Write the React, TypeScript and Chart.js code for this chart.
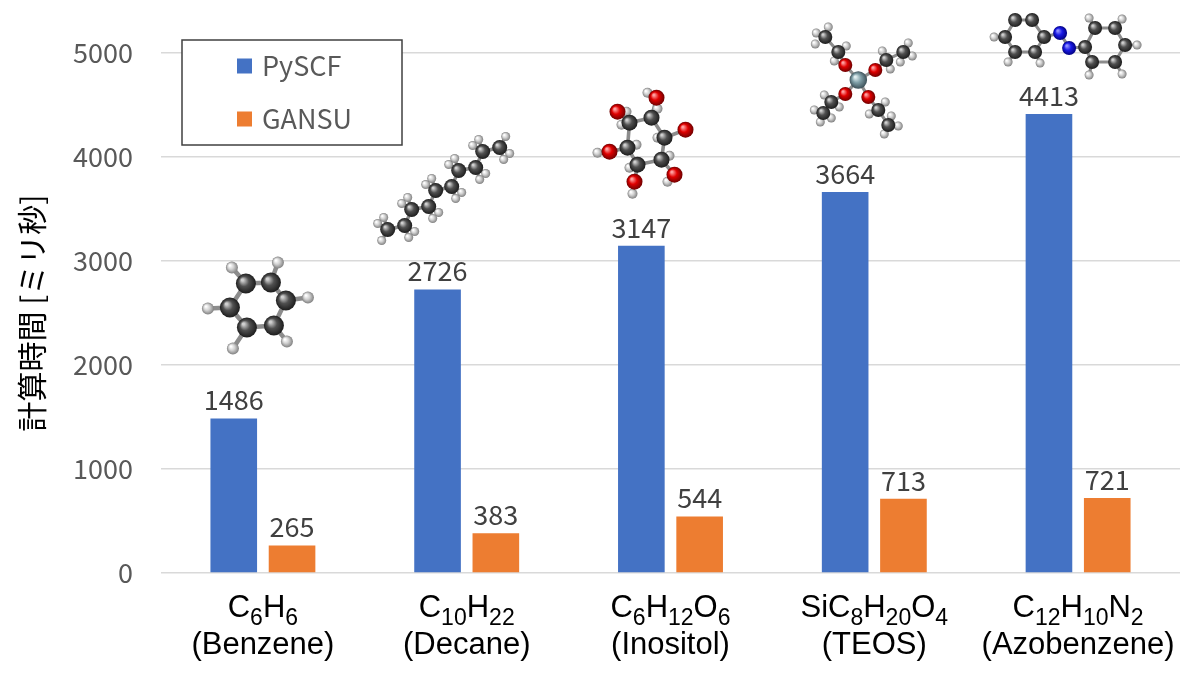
import { useEffect, useRef } from "react"
import { Chart, registerables } from "chart.js"

Chart.register(...registerables)

// Chart data
const formulas = ["C{6}H{6}", "C{10}H{22}", "C{6}H{12}O{6}", "SiC{8}H{20}O{4}", "C{12}H{10}N{2}"]
const names = ["(Benzene)", "(Decane)", "(Inositol)", "(TEOS)", "(Azobenzene)"]
const pyscf = [1486, 2726, 3147, 3664, 4413]
const gansu = [265, 383, 544, 713, 721]
const yMax = 5000
const yStep = 1000

const BLUE = "#4472C4"
const ORANGE = "#ED7D31"
const JP = '"Noto Sans CJK JP", "Noto Sans", sans-serif'
const LATIN = '"Liberation Sans", Arial, sans-serif'

// Ball-and-stick sketches that sit above each group (decoration only)
type Atom = [number, number, string]
type Molecule = {
  at: [number, number]
  r: number
  rh: number
  maxBond: number
  hBond: number
  atoms: Atom[]
}

const molecules: Molecule[] = [
  {
    // benzene
    at: [-4, -114],
    r: 10,
    rh: 6,
    maxBond: 30,
    hBond: 26,
    atoms: [
      [-13, -21, "C"], [12, -22, "C"], [27, -4, "C"], [15, 21, "C"], [-12, 23, "C"], [-29, 3, "C"],
      [-27, -37, "H"], [19, -42, "H"], [49, -7, "H"], [28, 37, "H"], [-26, 44, "H"], [-51, 4, "H"],
    ],
  },
  {
    // decane
    at: [-23, -101],
    r: 7.5,
    rh: 4.5,
    maxBond: 20,
    hBond: 14,
    atoms: [
      [-56, 41, "C"], [-39, 37, "C"], [-32, 21, "C"], [-15, 18, "C"], [-8, 2, "C"],
      [8, -2, "C"], [15, -18, "C"], [32, -21, "C"], [39, -37, "C"], [56, -41, "C"],
      [-66, 35, "H"], [-60, 29, "H"], [-62, 52, "H"], [-29, 43, "H"], [-35, 49, "H"],
      [-42, 15, "H"], [-36, 9, "H"], [-5, 24, "H"], [-11, 30, "H"], [-18, -4, "H"],
      [-12, -10, "H"], [18, 4, "H"], [12, 10, "H"], [5, -24, "H"], [11, -30, "H"],
      [42, -15, "H"], [36, -9, "H"], [29, -43, "H"], [35, -49, "H"], [66, -35, "H"],
      [60, -29, "H"], [62, -52, "H"],
    ],
  },
  {
    // inositol
    at: [-25, -104],
    r: 8,
    rh: 5,
    maxBond: 26,
    hBond: 13,
    atoms: [
      [-24, -17, "H"], [12, -4, "H"], [-16, 26, "H"], [-9, 3, "H"], [12, -33, "H"], [24, 14, "H"],
      [-19, -30, "H"], [2, -49, "H"], [22, 40, "H"], [-13, 52, "H"], [-48, 11, "H"],
      [-16, -19, "C"], [6, -24, "C"], [19, -4, "C"], [16, 18, "C"], [-8, 23, "C"], [-18, 6, "C"],
      [-28, -30, "O"], [11, -44, "O"], [40, -12, "O"], [29, 33, "O"], [-11, 40, "O"], [-36, 10, "O"],
    ],
  },
  {
    // TEOS
    at: [-16, -112],
    r: 7,
    rh: 4.5,
    maxBond: 22,
    hBond: 12,
    atoms: [
      [-42, -47, "H"], [-30, -53, "H"], [-43, -36, "H"], [-12, -34, "H"], [-24, -19, "H"],
      [24, -29, "H"], [32, -11, "H"], [50, -37, "H"], [54, -24, "H"], [42, -18, "H"],
      [-34, 15, "H"], [-19, 27, "H"], [-44, 30, "H"], [-38, 42, "H"], [-27, 38, "H"],
      [27, 22, "H"], [11, 34, "H"], [40, 46, "H"], [26, 54, "H"], [33, 36, "H"],
      [-20, -28, "C"], [-33, -43, "C"], [28, -20, "C"], [45, -28, "C"],
      [-27, 22, "C"], [-35, 33, "C"], [20, 30, "C"], [30, 45, "C"],
      [-13, -15, "O"], [17, -10, "O"], [-13, 14, "O"], [10, 17, "O"],
      [0, 0, "Si"],
    ],
  },
  {
    // azobenzene
    at: [-14, -74],
    r: 7,
    rh: 4.5,
    maxBond: 24,
    hBond: 16,
    atoms: [
      [-70, -3, "H"], [-24, 23, "H"], [-56, 22, "H"],
      [25, -22, "H"], [58, -21, "H"], [73, 5, "H"], [58, 34, "H"], [25, 35, "H"],
      [-49, -20, "C"], [-32, -20, "C"], [-20, -3, "C"], [-29, 12, "C"], [-49, 12, "C"], [-59, -3, "C"],
      [31, -12, "C"], [51, -12, "C"], [61, 5, "C"], [51, 22, "C"], [28, 22, "C"], [21, 7, "C"],
      [-4, -7, "N"], [5, 8, "N"],
    ],
  },
]

const atomColors: Record<string, [string, string, string]> = {
  C: ["#d0d0d0", "#505050", "#1c1c1c"],
  H: ["#ffffff", "#d2d2d2", "#808080"],
  O: ["#ffa0a0", "#e00000", "#700000"],
  N: ["#9090ff", "#1a1ae6", "#000080"],
  Si: ["#e0eef0", "#80a0a8", "#3c5058"],
}

function drawMolecule(ctx: CanvasRenderingContext2D, cx: number, cy: number, m: Molecule) {
  const pts = m.atoms.map(([dx, dy, el]) => ({ x: cx + dx, y: cy + dy, el }))
  ctx.save()
  ctx.strokeStyle = "#8c8c8c"
  ctx.lineCap = "round"
  ctx.lineWidth = m.r * 0.45
  for (let i = 0; i < pts.length; i++) {
    for (let j = i + 1; j < pts.length; j++) {
      const a = pts[i]
      const b = pts[j]
      const hasH = a.el === "H" || b.el === "H"
      if (a.el === "H" && b.el === "H") continue
      const d = Math.hypot(a.x - b.x, a.y - b.y)
      if (d < (hasH ? m.hBond : m.maxBond)) {
        ctx.beginPath()
        ctx.moveTo(a.x, a.y)
        ctx.lineTo(b.x, b.y)
        ctx.stroke()
      }
    }
  }
  const ordered = [...pts.filter((p) => p.el === "H"), ...pts.filter((p) => p.el !== "H")]
  for (const p of ordered) {
    const r = p.el === "H" ? m.rh : p.el === "Si" ? m.r * 1.25 : m.r
    const [light, base, dark] = atomColors[p.el]
    const g = ctx.createRadialGradient(p.x - r * 0.35, p.y - r * 0.35, r * 0.1, p.x, p.y, r)
    g.addColorStop(0, light)
    g.addColorStop(0.45, base)
    g.addColorStop(1, dark)
    ctx.fillStyle = g
    ctx.beginPath()
    ctx.arc(p.x, p.y, r, 0, Math.PI * 2)
    ctx.fill()
  }
  ctx.restore()
}

// draws "C{6}H{6}" with subscripts, centred on x
function drawFormula(ctx: CanvasRenderingContext2D, text: string, x: number, y: number) {
  const parts: [string, boolean][] = []
  const re = /\{([^}]*)\}|([^{]+)/g
  let m: RegExpExecArray | null
  while ((m = re.exec(text))) {
    if (m[1] !== undefined) parts.push([m[1], true])
    else parts.push([m[2], false])
  }
  const mainFont = `31px ${LATIN}`
  const subFont = `23px ${LATIN}`
  let total = 0
  for (const [t, sub] of parts) {
    ctx.font = sub ? subFont : mainFont
    total += ctx.measureText(t).width
  }
  let cur = x - total / 2
  ctx.textAlign = "left"
  for (const [t, sub] of parts) {
    ctx.font = sub ? subFont : mainFont
    ctx.fillText(t, cur, sub ? y + 8 : y)
    cur += ctx.measureText(t).width
  }
}

const decorations = {
  id: "decorations",
  afterDatasetsDraw(chart: Chart) {
    const ctx = chart.ctx
    ctx.save()
    ctx.font = `27px ${JP}`
    ctx.fillStyle = "#404040"
    ctx.textAlign = "center"
    ctx.textBaseline = "alphabetic"
    chart.data.datasets.forEach((ds, di) => {
      const meta = chart.getDatasetMeta(di)
      meta.data.forEach((bar, i) => {
        ctx.fillText(String(ds.data[i]), bar.x, bar.y - 8)
      })
    })
    ctx.restore()
  },
  afterDraw(chart: Chart) {
    const ctx = chart.ctx
    const area = chart.chartArea
    const xs = chart.scales.x
    const ys = chart.scales.y

    // category labels
    ctx.save()
    ctx.fillStyle = "#000000"
    ctx.textBaseline = "alphabetic"
    formulas.forEach((f, i) => {
      const x = xs.getPixelForValue(i)
      drawFormula(ctx, f, x, area.bottom + 44)
      ctx.font = `31px ${LATIN}`
      ctx.textAlign = "center"
      ctx.fillText(names[i], x, area.bottom + 81)
    })
    ctx.restore()

    // legend box
    ctx.save()
    const bx = area.left + 21
    const by = area.top - 13
    ctx.fillStyle = "#ffffff"
    ctx.fillRect(bx, by, 220, 105)
    ctx.strokeStyle = "#404040"
    ctx.lineWidth = 1.5
    ctx.strokeRect(bx, by, 220, 105)
    ctx.font = `27px ${JP}`
    ctx.textBaseline = "middle"
    ctx.textAlign = "left"
    chart.data.datasets.forEach((ds, di) => {
      const rowY = by + 26 + di * 53
      ctx.fillStyle = ds.backgroundColor as string
      ctx.fillRect(bx + 55, rowY - 7.5, 15, 15)
      ctx.fillStyle = "#595959"
      ctx.fillText(ds.label || "", bx + 80, rowY)
    })
    ctx.restore()

    // molecules
    molecules.forEach((m, i) => {
      const cx = xs.getPixelForValue(i) + m.at[0]
      const cy = ys.getPixelForValue(pyscf[i]) + m.at[1]
      drawMolecule(ctx, cx, cy, m)
    })
  },
}

export default function App() {
  const canvasRef = useRef<HTMLCanvasElement>(null)

  useEffect(() => {
    document.body.style.margin = "0"
    if (!canvasRef.current) return
    const chart = new Chart(canvasRef.current, {
      type: "bar",
      data: {
        labels: names,
        datasets: [
          {
            label: "PySCF",
            data: pyscf,
            backgroundColor: BLUE,
            categoryPercentage: 0.572,
            barPercentage: 0.8,
          },
          {
            label: "GANSU",
            data: gansu,
            backgroundColor: ORANGE,
            categoryPercentage: 0.572,
            barPercentage: 0.8,
          },
        ],
      },
      options: {
        responsive: true,
        maintainAspectRatio: false,
        animation: false,
        layout: { padding: { top: 53, right: 20, bottom: 101, left: 0 } },
        plugins: {
          legend: { display: false },
          tooltip: { enabled: false },
        },
        scales: {
          x: {
            grid: { display: false },
            border: { display: false },
            ticks: { display: false },
          },
          y: {
            min: 0,
            max: yMax,
            afterFit: (scale) => {
              scale.width = 161
            },
            grid: { color: "#d9d9d9", lineWidth: 1.5, drawTicks: false },
            border: { display: false },
            ticks: {
              stepSize: yStep,
              padding: 28,
              color: "#595959",
              font: { family: JP, size: 27 },
              callback: (v) => String(v),
            },
            title: {
              display: true,
              text: "計算時間 [ミリ秒]",
              color: "#000000",
              font: { family: JP, size: 30 },
              padding: { top: 14, bottom: 0 },
            },
          },
        },
      },
      plugins: [decorations],
    })
    return () => chart.destroy()
  }, [])

  return (
    <div style={{ position: "relative", width: 1200, height: 682 }}>
      <canvas ref={canvasRef} />
    </div>
  )
}
